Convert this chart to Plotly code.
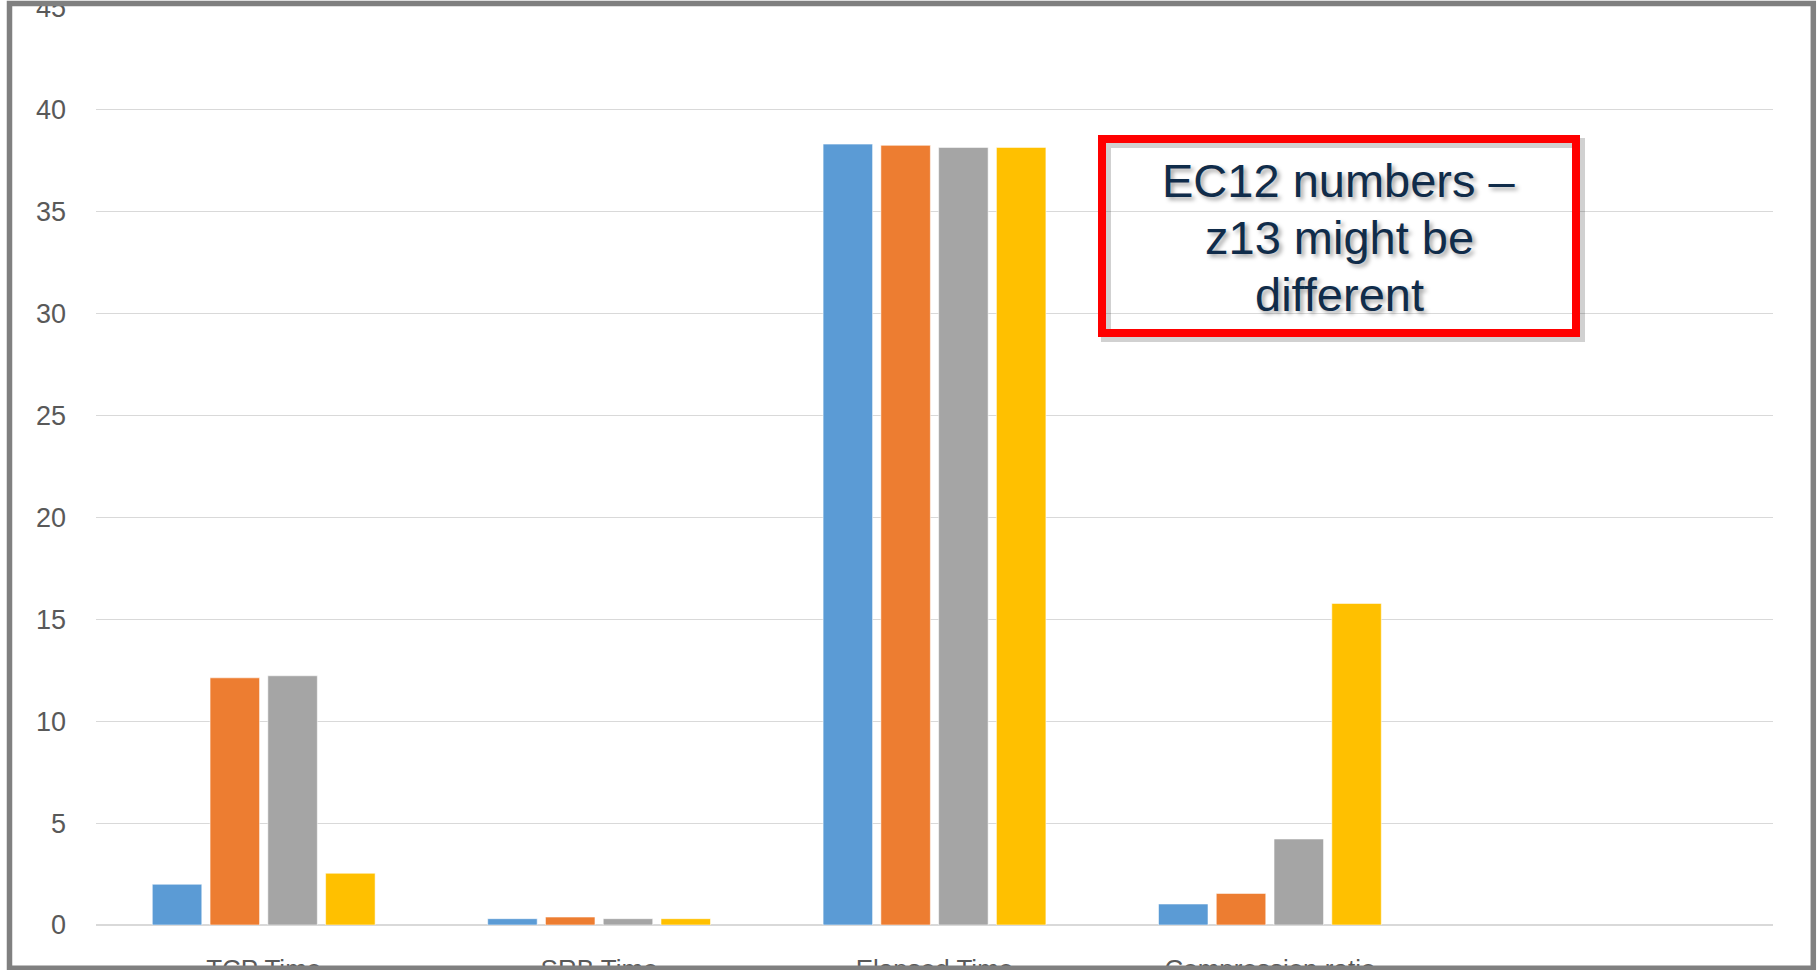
import plotly.graph_objects as go

# ---- data ----
categories = ["TCP Time", "SRB Time", "Elapsed Time", "Compression ratio"]
series_names = ["Series 1", "Series 2", "Series 3", "Series 4"]
series_1 = [2.0, 0.31, 38.32, 1.03]
series_2 = [12.13, 0.39, 38.26, 1.55]
series_3 = [12.23, 0.31, 38.16, 4.22]
series_4 = [2.54, 0.31, 38.16, 15.78]
y_ticks = [0, 5, 10, 15, 20, 25, 30, 35, 40, 45]
note_lines = ["EC12 numbers –", "z13 might be", "different"]

colors = ["#5B9BD5", "#ED7D31", "#A5A5A5", "#FFC000"]

W, H = 1817, 970
L, R, T, B = 96, 44, 8, 45
PW, PH = W - L - R, H - T - B


def px(x):
    return (x - L) / PW


def py(y):
    return (H - B - y) / PH


fig = go.Figure()
for name, vals, c in zip(series_names, [series_1, series_2, series_3, series_4], colors):
    fig.add_trace(go.Bar(
        x=categories, y=vals, name=name,
        marker=dict(color=c, line=dict(color="rgba(255,255,255,0.55)", width=1)),
    ))

shapes = []
# annotation box shadow
shapes.append(dict(type="rect", xref="paper", yref="paper",
                   x0=px(1106), x1=px(1580), y0=py(143), y1=py(337),
                   line=dict(color="rgba(0,0,0,0.18)", width=10), fillcolor="rgba(0,0,0,0)",
                   layer="above"))
# red annotation box
shapes.append(dict(type="rect", xref="paper", yref="paper",
                   x0=px(1102), x1=px(1576), y0=py(139), y1=py(333),
                   line=dict(color="#FF0000", width=8), fillcolor="rgba(0,0,0,0)",
                   layer="above"))
# white strip above frame
shapes.append(dict(type="rect", xref="paper", yref="paper",
                   x0=px(0), x1=px(W), y0=py(0), y1=py(1.5),
                   line=dict(width=0), fillcolor="white", layer="above"))
# outer frame
shapes.append(dict(type="rect", xref="paper", yref="paper",
                   x0=px(9.5), x1=px(1813.3), y0=py(3.5), y1=py(968.3),
                   line=dict(color="#808080", width=5.5), fillcolor="rgba(0,0,0,0)",
                   layer="above"))

line_centers = [180, 237, 295]
annotations = []
for txt, yc in zip(note_lines, line_centers):
    annotations.append(dict(
        xref="paper", yref="paper", x=px(1339), y=py(yc),
        xanchor="center", yanchor="middle", showarrow=False,
        text=txt, align="center",
        font=dict(family="Liberation Sans, Arial, sans-serif", size=47, color="#102C4A",
                  shadow="3px 3px 4px rgba(0,0,0,0.35)"),
    ))

fig.update_layout(
    width=W, height=H,
    margin=dict(l=L, r=R, t=T, b=B, pad=0, autoexpand=False),
    paper_bgcolor="white", plot_bgcolor="white",
    barmode="group", bargap=0.311, bargroupgap=0.143,
    showlegend=False,
    font=dict(family="Liberation Sans, Arial, sans-serif", color="#595959", size=26),
    xaxis=dict(
        type="category", range=[-0.5, 4.5], automargin=False,
        showgrid=False, showline=False, zeroline=False,
        ticks="", ticklabelstandoff=26, ticklabeloverflow="allow",
        tickfont=dict(size=26, color="#595959"),
    ),
    yaxis=dict(
        range=[0, 45], tickvals=y_ticks, automargin=False,
        showgrid=True, gridcolor="#D9D9D9", gridwidth=1.3,
        zeroline=True, zerolinecolor="#D9D9D9", zerolinewidth=1.6,
        showline=False, ticks="", ticklabelstandoff=29, ticklabeloverflow="allow",
        tickfont=dict(size=27, color="#595959"),
    ),
    shapes=shapes,
    annotations=annotations,
)

fig.write_html("out.html")
